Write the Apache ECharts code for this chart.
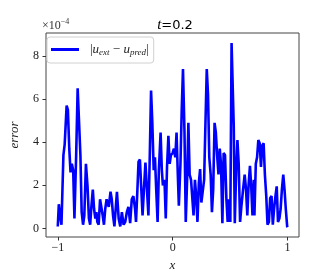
<!DOCTYPE html>
<html><head><meta charset="utf-8">
<script src="https://cdn.jsdelivr.net/npm/echarts@6/dist/echarts.min.js"></script>
<style>html,body{margin:0;padding:0;background:#fff}#c{width:332px;height:277px}</style>
</head><body><div id="c"></div>
<script>
// error values in units of 1e-4
const xValues = [-1.0,-0.991,-0.980,-0.968,-0.951,-0.940,-0.923,-0.912,-0.900,-0.889,-0.878,-0.866,-0.855,-0.840,-0.827,-0.815,-0.803,-0.792,-0.780,-0.769,-0.755,-0.741,-0.729,-0.718,-0.707,-0.695,-0.684,-0.673,-0.664,-0.656,-0.644,-0.632,-0.621,-0.609,-0.598,-0.587,-0.575,-0.564,-0.556,-0.541,-0.530,-0.519,-0.507,
-0.485,-0.470,-0.456,-0.442,-0.427,-0.413,-0.399,-0.385,-0.370,-0.356,-0.342,-0.327,-0.319,-0.308,-0.297,-0.285,-0.274,-0.262,-0.250,-0.237,-0.222,-0.211,-0.199,-0.188,-0.177,-0.165,-0.154,-0.143,-0.131,-0.120,-0.105,-0.094,-0.085,-0.071,-0.060,-0.049,-0.037,-0.026,-0.015,0.000,0.011,0.023,0.034,0.045,0.054,0.068,0.079,0.090,0.103,0.114,0.126,0.137,0.148,0.160,0.171,0.182,0.194,0.205,0.216,0.228,0.239,0.250,0.262,0.274,0.285,0.297,0.308,0.319,0.331,0.342,0.353,0.365,0.376,0.387,0.399,0.410,0.421,0.433,0.444,0.456,0.468,0.479,0.490,0.502,0.513,0.521,0.532,0.541,0.553,0.564,0.575,0.587,0.598,0.613,0.627,0.639,0.650,0.661,0.673,0.684,0.695,0.707,0.712,0.724,0.735,0.746,0.758,0.769,0.780,0.792,0.803,0.815,0.826,0.838,0.849,0.861,0.872,0.883,0.895,0.906,0.917,0.929,0.940,0.951,0.963,0.974,0.985,0.997,1.0];
const errorE4 = [0.09,1.12,0.6,0.17,3.4,3.9,5.7,5.5,3.7,2.6,3.0,2.7,0.46,3.4,6.5,6.5,3.4,0.75,0.17,0.6,3.0,1.95,0.46,0.17,1.05,1.8,0.9,0.46,0.75,0.3,0.17,1.35,1.4,0.6,0.17,0.9,1.35,1.3,1.0,1.7,1.35,0.6,0.09,
1.7,0.46,0.09,0.75,0.17,0.3,0.75,1.0,0.24,1.35,1.5,0.9,0.3,1.65,3.1,3.2,1.95,0.6,1.8,3.05,1.65,0.6,3.4,6.4,4.9,2.7,3.3,1.8,0.3,2.7,4.45,2.7,2.0,2.25,0.46,2.85,4.3,3.0,3.4,3.5,3.7,3.3,4.45,2.5,1.05,3.0,5.5,7.4,4.5,0.3,2.25,4.9,2.5,2.25,2.3,0.6,2.25,1.5,0.3,2.1,2.75,1.2,1.2,2.25,4.75,7.4,6.2,3.3,2.5,0.75,1.8,4.9,4.45,3.4,2.5,3.7,3.0,0.24,3.5,3.4,1.35,0.3,1.35,0.3,8.6,8.6,4.75,0.24,2.7,4.1,3.0,0.3,1.0,1.8,2.5,1.8,0.6,2.0,2.9,1.95,0.6,2.25,0.6,3.0,3.3,4.1,3.95,2.85,3.85,3.95,2.5,1.5,0.17,0.3,1.4,1.5,0.17,0.9,1.5,1.95,0.3,0.46,0.9,1.8,2.5,1.8,0.9,0.09,0.05];
const xTicks = [-1, 0, 1];
const yTicks = [0, 2, 4, 6, 8];
const seriesName = '|u_ext − u_pred|';

const serif = '"Liberation Serif", "DejaVu Serif", serif';
const chart = echarts.init(document.getElementById('c'), null, {renderer: 'canvas'});
chart.setOption({
  animation: false,
  backgroundColor: '#fff',
  grid: {left: 41, right: 33, top: 33, bottom: 31, show: true, borderColor: '#444', borderWidth: 1, backgroundColor: 'transparent'},
  title: {
    text: '{i|t}{n|=0.2}', left: 170, textAlign: 'center', top: 13,
    textStyle: {fontWeight: 'normal', rich: {
      i: {fontFamily: serif, fontStyle: 'italic', fontWeight: 'normal', fontSize: 15, color: '#000'},
      n: {fontFamily: '"DejaVu Sans", sans-serif', fontWeight: 'normal', fontSize: 13, color: '#000'}}}
  },
  legend: {
    left: 47, top: 37, orient: 'horizontal',
    icon: 'rect', itemWidth: 28, itemHeight: 3, itemGap: 4,
    padding: [6, 5, 6, 4],
    borderColor: '#d0d0d0', borderWidth: 1, borderRadius: 3,
    backgroundColor: '#fff',
    data: [{name: seriesName}],
    formatter: function () { return '{v||}{i|u}{s|ext}{o| − }{i|u}{s|pred}{v||}'; },
    textStyle: {
      padding: [0, 0, 0, 6],
      rich: {
        v: {fontFamily: serif, fontSize: 13, color: '#222'},
        i: {fontFamily: serif, fontStyle: 'italic', fontSize: 13, color: '#222'},
        s: {fontFamily: serif, fontStyle: 'italic', fontSize: 9, color: '#222', verticalAlign: 'bottom', padding: [6, 0, 0, 0]},
        o: {fontFamily: serif, fontSize: 13, color: '#222'}
      }
    }
  },
  xAxis: {
    type: 'value', min: -1.1026, max: 1.1,
    name: 'x', nameLocation: 'middle', nameGap: 22,
    nameTextStyle: {fontFamily: serif, fontStyle: 'italic', fontSize: 13, color: '#222'},
    splitLine: {show: false},
    axisLine: {show: false, onZero: false},
    axisTick: {show: true, length: 3.5, lineStyle: {color: '#333'}, customValues: xTicks},
    axisLabel: {fontFamily: serif, fontSize: 12, color: '#222', margin: 5, customValues: xTicks,
      formatter: v => (v < 0 ? '\u2212' + Math.abs(v) : String(v))}
  },
  yAxis: {
    type: 'value', min: -0.4, max: 9.07,
    name: 'error', nameLocation: 'middle', nameGap: 25, nameRotate: 90,
    nameTextStyle: {fontFamily: serif, fontStyle: 'italic', fontSize: 13, color: '#222'},
    splitLine: {show: false},
    axisLine: {show: false, onZero: false},
    axisTick: {show: true, length: 3.5, lineStyle: {color: '#333'}, customValues: yTicks},
    axisLabel: {fontFamily: serif, fontSize: 12, color: '#222', margin: 7, customValues: yTicks}
  },
  graphic: [{
    type: 'text', left: 42, top: 18,
    style: {text: '{a|×10}{b|−4}', rich: {a: {fontFamily: serif, fontSize: 12, fill: '#333'}, b: {fontFamily: serif, fontSize: 8, fill: '#333', verticalAlign: 'top', padding: [0, 0, 8, 0]}}}
  }],
  series: [{
    name: seriesName, type: 'line', symbol: 'none', showSymbol: false,
    lineStyle: {color: '#0000ff', width: 2.6},
    itemStyle: {color: '#0000ff'},
    data: xValues.map((x, i) => [x, errorE4[i]])
  }]
});
</script></body></html>
